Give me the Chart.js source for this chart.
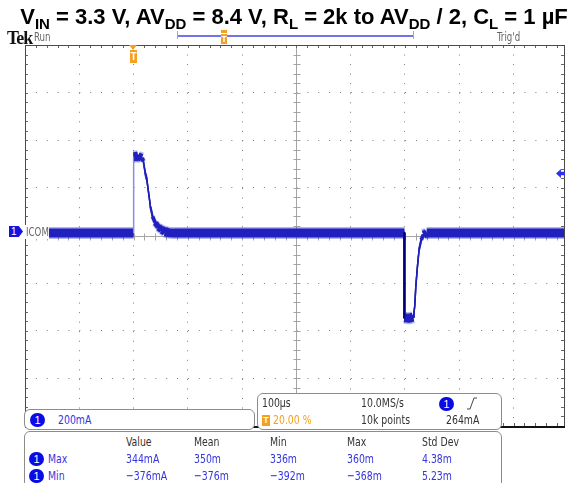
<!DOCTYPE html>
<html>
<head>
<meta charset="utf-8">
<script src="https://cdn.jsdelivr.net/npm/chart.js@4.4.1/dist/chart.umd.min.js"></script>
<style>
  html, body { margin: 0; padding: 0; background: #fff; }
  #wrap { position: relative; width: 574px; height: 483px; overflow: hidden; }
  #scope { position: absolute; left: 0; top: 0; }
  .title { position: absolute; left: 7px; top: 4px; width: 574px; text-align: center;
    font: bold 22px 'Liberation Sans', Arial, sans-serif; color: #000; white-space: nowrap; }
  .title sub { font-size: 15px; vertical-align: -5px; line-height: 0; }
  .t { position: absolute; font-family: 'DejaVu Sans Condensed', 'DejaVu Sans', sans-serif;
    font-size: 13px; line-height: 14px; white-space: nowrap; transform: scaleX(0.8); transform-origin: 0 0; }
  .gray { color: #666; }
  .blue { color: #3434e0; }
  .hdr { color: #333; }
  .box { position: absolute; background: #fff; border: 1.5px solid #8c8c8c; border-radius: 6px; box-sizing: border-box; }
  .badge { position: absolute; width: 15px; height: 14px; border-radius: 7px; background: #0b0be6; color: #fff;
    font: 11px 'Liberation Sans', Arial, sans-serif; line-height: 14px; text-align: center; }
</style>
</head>
<body>
<div id="wrap">
  <canvas id="scope" width="574" height="483"></canvas>

  <div class="title">V<sub>IN</sub> = 3.3 V, AV<sub>DD</sub> = 8.4 V, R<sub>L</sub> = 2k to AV<sub>DD</sub> / 2, C<sub>L</sub> = 1 µF</div>

  <!-- top status line -->
  <div class="t" style="left:7px;top:28px;font:bold 18px 'Liberation Serif',serif;letter-spacing:-1px;color:#111;transform:none">Tek</div>
  <div class="t gray" style="left:34px;top:30px;font-size:12px">Run</div>
  <div class="t gray" style="left:497px;top:30px;font-size:12px">Trig'd</div>
  <div style="position:absolute;left:177px;top:31px;width:1px;height:8px;background:#aaa"></div>
  <div style="position:absolute;left:413px;top:31px;width:1px;height:8px;background:#aaa"></div>
  <div style="position:absolute;left:178px;top:35px;width:235px;height:2px;background:#7474ea"></div>
  <div style="position:absolute;left:221px;top:30px;width:6px;height:3px;background:#f4a020"></div>
  <div style="position:absolute;left:221px;top:34px;width:6px;height:10px;background:#f4a020;color:#fff;font:bold 9px 'Liberation Sans',sans-serif;line-height:10px;text-align:center">T</div>

  <!-- trigger position marker -->
  <div style="position:absolute;left:129px;top:45px;width:0;height:0;border-left:4.5px solid transparent;border-right:4.5px solid transparent;border-top:5px solid #f4a020"></div>
  <div style="position:absolute;left:130px;top:50px;width:7px;height:13px;background:#f4a020;color:#fff;font:bold 10px 'Liberation Sans',sans-serif;line-height:13px;text-align:center">T</div>

  <!-- channel ground marker -->
  <div style="position:absolute;left:9px;top:226px;width:14px;height:11px;background:#1414e0;color:#fff;font:10px 'Liberation Sans',sans-serif;line-height:11px;text-indent:2px;clip-path:polygon(0 0,70% 0,100% 50%,70% 100%,0 100%)">1</div>
  <div style="position:absolute;left:25px;top:225px;width:24px;height:14px;background:#fff"></div>
  <div class="t gray" style="left:26px;top:225px;font-size:12px">ICOM</div>

  <!-- trigger level arrow -->
  <div style="position:absolute;left:556px;top:169px;width:9px;height:9px;background:#3030f0;clip-path:polygon(0 50%,55% 0,55% 30%,100% 30%,100% 70%,55% 70%,55% 100%)"></div>

  <!-- channel box -->
  <div class="box" style="left:24px;top:409px;width:231px;height:21px"></div>
  <div class="badge" style="left:30px;top:413px">1</div>
  <div class="t blue" style="left:58px;top:413px">200mA</div>

  <!-- timebase box -->
  <div class="box" style="left:257px;top:393px;width:245px;height:37px"></div>
  <div class="t hdr" style="left:262px;top:396px">100µs</div>
  <div class="t hdr" style="left:361px;top:396px">10.0MS/s</div>
  <div class="badge" style="left:439px;top:397px">1</div>
  <svg style="position:absolute;left:466px;top:397px" width="12" height="13"><polyline points="1,12 4,12 8,1 11,1" fill="none" stroke="#444" stroke-width="1"/></svg>
  <div style="position:absolute;left:262px;top:415px;width:8px;height:11px;background:#f4a020;color:#fff;font:bold 9px 'Liberation Sans',sans-serif;line-height:11px;text-align:center">T</div>
  <div class="t" style="left:273px;top:413px;color:#f4a020">20.00 %</div>
  <div class="t hdr" style="left:361px;top:413px">10k points</div>
  <div class="t hdr" style="left:446px;top:413px">264mA</div>

  <!-- measurement box -->
  <div class="box" style="left:24px;top:431px;width:478px;height:70px"></div>
  <div class="t hdr" style="left:126px;top:435px">Value</div>
  <div class="t hdr" style="left:194px;top:435px">Mean</div>
  <div class="t hdr" style="left:270px;top:435px">Min</div>
  <div class="t hdr" style="left:347px;top:435px">Max</div>
  <div class="t hdr" style="left:422px;top:435px">Std Dev</div>
  <div class="badge" style="left:29px;top:452px">1</div>
  <div class="t blue" style="left:48px;top:452px">Max</div>
  <div class="t blue" style="left:126px;top:452px">344mA</div>
  <div class="t blue" style="left:194px;top:452px">350m</div>
  <div class="t blue" style="left:270px;top:452px">336m</div>
  <div class="t blue" style="left:347px;top:452px">360m</div>
  <div class="t blue" style="left:422px;top:452px">4.38m</div>
  <div class="badge" style="left:29px;top:469px">1</div>
  <div class="t blue" style="left:48px;top:469px">Min</div>
  <div class="t blue" style="left:126px;top:469px">−376mA</div>
  <div class="t blue" style="left:194px;top:469px">−376m</div>
  <div class="t blue" style="left:270px;top:469px">−392m</div>
  <div class="t blue" style="left:347px;top:469px">−368m</div>
  <div class="t blue" style="left:422px;top:469px">5.23m</div>
</div>

<script>
// Captured waveform, channel 1 (ICOM)
const timeUs    = [-200, 0, 0, 8, 15, 18, 21.5, 24.5, 28, 31, 35, 40, 46, 52, 58, 64, 75,
                   499, 499, 507, 515, 516.5, 518, 520, 523, 526, 530, 534, 540, 793];
const currentMa = [10, 10, 331, 333, 326, 312, 263, 234, 175, 122, 80, 53, 35, 24, 16, 12, 10,
                   10, -345, -348, -343, -325, -297, -214, -130, -60, -18, 4, 10, 10];

// Graticule: 100 µs/div, 200 mA/div, trigger at 20 %
const divTimes = [-200, -100, 0, 100, 200, 300, 400, 500, 600, 700];
const divCurrents = [-800, -600, -400, -200, 0, 200, 400, 600, 800];
const timeMin = -200, timeMax = 793, centerTime = 300;

const points = timeUs.map((t, i) => ({ x: t, y: currentMa[i] }));

// keep the noise band the same vertical thickness on sloped parts
const bandWidth = (base) => (c) => {
  const dx = c.p1.x - c.p0.x, dy = c.p1.y - c.p0.y;
  if (Math.abs(dx) < 0.01) return dy < 0 ? 1.2 : 2;
  const w = base * Math.abs(dx) / Math.hypot(dx, dy);
  if (w > base * 0.93) return base;
  return Math.max(1.5, Math.round(w * 2) / 2);
};
const bandColor = (col) => (c) => {
  const dx = c.p1.x - c.p0.x, dy = c.p1.y - c.p0.y;
  if (Math.abs(dx) < 0.01) return dy < 0 ? '#8c8ce4' : '#00007a';
  return col;
};
const trace = (col, w) => ({
  data: points,
  borderColor: col,
  borderWidth: w,
  borderCapStyle: 'butt',
  borderJoinStyle: 'round',
  pointRadius: 0,
  tension: 0,
  segment: { borderWidth: bandWidth(w), borderColor: bandColor(col) }
});

const graticule = {
  id: 'graticule',
  beforeDatasetsDraw(chart) {
    const { ctx, chartArea: a, scales: { x, y } } = chart;
    const cx = Math.round(x.getPixelForValue(centerTime)) + 0.5;
    const cy = Math.round(y.getPixelForValue(0)) + 0.5;
    ctx.save();
    ctx.lineWidth = 1;
    // centre cross with minor ticks
    ctx.strokeStyle = '#a4a4a4';
    ctx.beginPath();
    ctx.moveTo(cx, a.top); ctx.lineTo(cx, a.bottom);
    ctx.moveTo(a.left, cy); ctx.lineTo(a.right, cy);
    for (let v = -800; v <= 800; v += 40) {
      const py = Math.round(y.getPixelForValue(v)) + 0.5;
      ctx.moveTo(cx - 3, py); ctx.lineTo(cx + 4, py);
    }
    for (let t = timeMin; t <= timeMax; t += 20) {
      const px = Math.round(x.getPixelForValue(t)) + 0.5;
      ctx.moveTo(px, cy - 3); ctx.lineTo(px, cy + 4);
    }
    ctx.stroke();
    // frame ticks
    ctx.strokeStyle = '#666';
    ctx.beginPath();
    for (let v = -800; v <= 800; v += 40) {
      const py = Math.round(y.getPixelForValue(v)) + 0.5;
      ctx.moveTo(a.left, py); ctx.lineTo(a.left + 3, py);
      ctx.moveTo(a.right - 3, py); ctx.lineTo(a.right, py);
    }
    for (let t = timeMin; t <= timeMax; t += 20) {
      const px = Math.round(x.getPixelForValue(t)) + 0.5;
      ctx.moveTo(px, a.top); ctx.lineTo(px, a.top + 3);
      ctx.moveTo(px, a.bottom - 3); ctx.lineTo(px, a.bottom);
    }
    ctx.stroke();
    // frame
    ctx.strokeStyle = '#4a4a4a';
    ctx.strokeRect(Math.round(a.left) + 0.5, Math.round(a.top) + 0.5, Math.round(a.right - a.left), Math.round(a.bottom - a.top));
    ctx.strokeStyle = '#111';
    ctx.lineWidth = 2;
    ctx.beginPath();
    ctx.moveTo(a.left, Math.round(a.bottom) + 1); ctx.lineTo(a.right + 1, Math.round(a.bottom) + 1);
    ctx.stroke();
    ctx.restore();
  }
};

new Chart(document.getElementById('scope').getContext('2d'), {
  type: 'line',
  data: {
    datasets: [trace('rgba(40,40,210,0.35)', 12), trace('#1c1cb4', 9), trace('#00007e', 5)]
  },
  options: {
    responsive: false,
    animation: false,
    layout: { padding: { left: 25, top: 45, right: 10, bottom: 57 } },
    plugins: { legend: { display: false }, tooltip: { enabled: false } },
    scales: {
      x: {
        type: 'linear', min: timeMin, max: timeMax,
        afterBuildTicks: s => { s.ticks = divTimes.map(v => ({ value: v })); },
        ticks: { display: false },
        grid: { drawTicks: false, color: c => (c.tick && (c.tick.value === centerTime || c.tick.value === timeMin)) ? 'rgba(0,0,0,0)' : '#7a7a7a' },
        border: { display: false, dash: [1, 8.54] }
      },
      y: {
        min: -800, max: 800,
        afterBuildTicks: s => { s.ticks = divCurrents.map(v => ({ value: v })); },
        ticks: { display: false },
        grid: { drawTicks: false, color: c => (c.tick && Math.abs(c.tick.value) % 800 === 0) ? 'rgba(0,0,0,0)' : '#7a7a7a' },
        border: { display: false, dash: [1, 9.86] }
      }
    }
  },
  plugins: [graticule]
});
</script>
</body>
</html>
